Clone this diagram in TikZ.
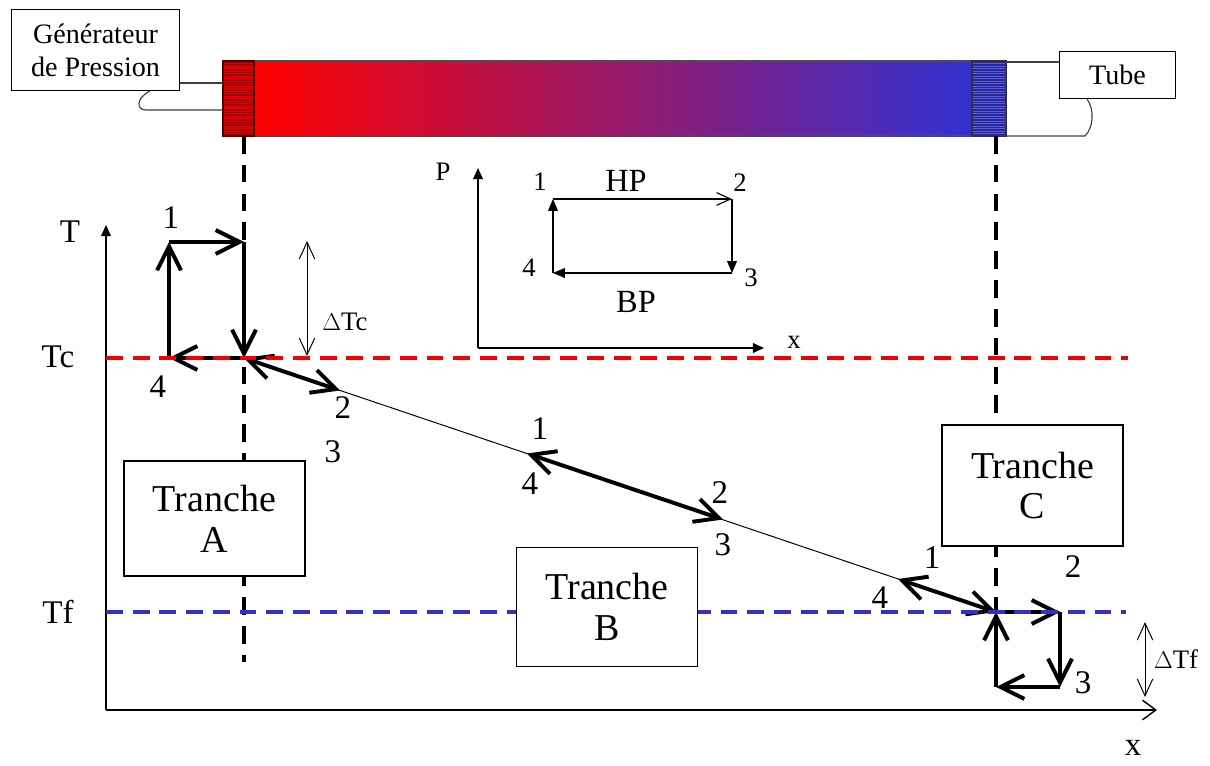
\documentclass[tikz,border=0pt]{standalone}
\usepackage{fontspec}
\setmainfont{Liberation Serif}
\usetikzlibrary{arrows.meta,positioning}
\definecolor{chaud}{RGB}{255,0,0}
\definecolor{milieu}{RGB}{175,35,145}
\definecolor{froid}{RGB}{50,50,210}
\definecolor{capred}{RGB}{165,0,0}
\definecolor{capblue}{RGB}{40,40,150}
\definecolor{tcline}{RGB}{240,0,0}
\definecolor{tfline}{RGB}{50,50,200}

\begin{document}
\begin{tikzpicture}
  [x=0.025cm,y=-0.025cm,
   every node/.style={inner sep=0pt},
   callout/.style={draw,fill=white,line width=0.8pt,align=center,font=\fontsize{20}{23.5}\selectfont},
   tranche/.style={draw,fill=white,line width=1pt,align=center,minimum width=128.5pt,font=\fontsize{27}{29}\selectfont},
   biglbl/.style={font=\fontsize{23.5}{26}\selectfont},
   smalllbl/.style={font=\fontsize{19}{21}\selectfont},
   hplbl/.style={font=\fontsize{23}{25}\selectfont},
   steparr/.style={line width=2.8pt,-{Straight Barb[length=17pt,width=17pt]}},
   pairarr/.style={line width=2.8pt,{Straight Barb[length=17pt,width=17pt]}-{Straight Barb[length=17pt,width=17pt]}},
   deltaarr/.style={line width=0.7pt,{Straight Barb[length=12pt,width=11pt]}-{Straight Barb[length=12pt,width=11pt]}},
   tline/.style={line width=2.6pt,dash pattern=on 12pt off 7pt},
   sliceline/.style={line width=3pt,dash pattern=on 12.5pt off 8pt},
   axisarr/.style={line width=1pt,-{Triangle[length=8pt,width=7pt]}}]
  \useasboundingbox (0,0) rectangle (1210,766);

  % tube
  \shade[left color=chaud,middle color=milieu,right color=froid] (254,61) rectangle (972,136);
  \draw[line width=0.8pt,black!70] (254,61) rectangle (972,136);
  \fill[capred] (223,61) rectangle (254,136);
  \foreach \y in {63.5,66,...,134.5}
    \draw[red!90!black,line width=0.35pt] (223,\y) -- (254,\y);
  \draw[line width=0.8pt,red!30!black] (223,61) rectangle (254,136);
  \fill[capblue] (972,61) rectangle (1006,136);
  \foreach \y in {63.5,66,...,134.5}
    \draw[froid!80!white,line width=0.35pt] (972,\y) -- (1006,\y);
  \draw[line width=0.8pt,black!80] (972,61) rectangle (1006,136);
  \coordinate (tubeL) at (223,83);
  \coordinate (tubeLb) at (223,110);
  \coordinate (tubeR) at (1006,62);
  \coordinate (tubeRb) at (1006,136);

  % callouts
  \node[callout,minimum width=120pt,minimum height=58pt] (gen) at (95.5,50) {Générateur\\de Pression};
  \node[callout,minimum width=83pt,minimum height=34pt] (tube) at (1117.5,75) {Tube};
  \draw[line width=0.8pt,black!75] (gen.east |- tubeL) -- (tubeL);
  \draw[line width=0.8pt,black!75] (150,91) .. controls (136,98) and (136,110) .. (146,110) -- (tubeLb);
  \draw[line width=0.8pt,black!75] (tubeR) -- (tube.west |- tubeR);
  \draw[line width=0.8pt,black!75] (1087,99) .. controls (1095,110) and (1093,128) .. (1085,136) -- (tubeRb);

  % slices
  \coordinate (sA) at (244,136);
  \coordinate (sAend) at (244,662);
  \coordinate (sC) at (996,136);
  \coordinate (sCend) at (996,612);
  \draw[sliceline] (sA) -- (sAend);
  \draw[sliceline] (sC) -- (sCend);

  % main axes
  \coordinate (O) at (106,710);
  \coordinate (Ttop) at (106,225);
  \coordinate (xend) at (1157,710);
  \draw[axisarr] (O) -- (Ttop);
  \draw[line width=1pt,-{Straight Barb[length=9.5pt,width=14pt]}] (O) -- (xend);
  \node[biglbl] (Tlab) at (70,232) {T};
  \node[biglbl] (Tclab) at (58,357) {Tc};
  \node[biglbl] (Tflab) at (58,612) {Tf};
  \node[biglbl] (xlab) at (1133,748) {x};

  % slice A cycle
  \coordinate (a1) at (169,242);
  \coordinate (a2) at (244,242);
  \coordinate (a3) at (244,358);
  \coordinate (a4) at (169,358);
  \foreach \from/\to in {a4/a1, a1/a2, a2/a3, a3/a4}
    \draw[steparr] (\from) -- (\to);
  \node[biglbl] (a1lab) at (171,218) {1};
  \node[biglbl] (a4lab) at (158,387) {4};

  % slope
  \coordinate (b1) at (340,390.5);
  \coordinate (m1) at (527,453.5);
  \coordinate (m2) at (723,519.5);
  \coordinate (c0) at (898,579);
  \coordinate (c1) at (996,612);
  \draw[line width=0.7pt] (a3) -- (c1);
  \draw[pairarr] (a3) -- (b1);
  \draw[pairarr] (m1) -- (m2);
  \draw[pairarr] (c0) -- (c1);
  \node[biglbl] (b2lab) at (343,408) {2};
  \node[biglbl] (b3lab) at (333,452) {3};
  \node[biglbl] (m1lab) at (540,429) {1};
  \node[biglbl] (m4lab) at (530,484) {4};
  \node[biglbl] (m2lab) at (720,493) {2};
  \node[biglbl] (m3lab) at (723,545) {3};
  \node[biglbl] (c1lab) at (932,558) {1};
  \node[biglbl] (c4lab) at (880,598) {4};

  % slice C cycle
  \coordinate (c2) at (1060,612);
  \coordinate (c3) at (1060,687);
  \coordinate (c4) at (996,687);
  \foreach \from/\to in {c1/c2, c2/c3, c3/c4, c4/c1}
    \draw[steparr] (\from) -- (\to);
  \node[biglbl] (c2lab) at (1073,567) {2};
  \node[biglbl] (c3lab) at (1083,683) {3};

  % levels Tc and Tf
  \coordinate (tcL) at (106,358);
  \coordinate (tcR) at (1128,358);
  \coordinate (tfL) at (106,612);
  \coordinate (tfR) at (1126,612);
  \draw[tline,tcline] (tcL) -- (tcR);
  \draw[tline,tfline] (tfL) -- (tfR);

  \node[tranche,minimum height=82pt] (trA) at (214.5,518.5) {Tranche\\A};
  \node[tranche,minimum height=85pt] (trB) at (607,607) {Tranche\\B};
  \node[tranche,minimum height=86pt] (trC) at (1032.5,485.5) {Tranche\\C};

  % temperature gaps
  \coordinate (dcTop) at (307,241);
  \coordinate (dcBot) at (307,356);
  \draw[deltaarr] (dcTop) -- (dcBot);
  \node[smalllbl] (dTc) at (345,322) {$\Delta$Tc};
  \coordinate (dfTop) at (1145,622);
  \coordinate (dfBot) at (1145,697);
  \draw[deltaarr] (dfTop) -- (dfBot);
  \node[smalllbl] (dTf) at (1176,659) {$\Delta$Tf};

  % P-x diagram
  \coordinate (po) at (478,348);
  \coordinate (ptop) at (478,168);
  \coordinate (pend) at (764,348);
  \draw[axisarr] (po) -- (ptop);
  \draw[axisarr] (po) -- (pend);
  \node[smalllbl] (Plab) at (443,172) {P};
  \node[smalllbl] (pxlab) at (794,342) {x};
  \coordinate (p1) at (553,199);
  \coordinate (p2) at (732,199);
  \coordinate (p3) at (732,273);
  \coordinate (p4) at (553,273);
  \draw[line width=0.8pt,-{Straight Barb[length=10pt,width=9pt]}] (p1) -- (p2);
  \foreach \from/\to in {p2/p3, p3/p4, p4/p1}
    \draw[line width=0.8pt,-{Triangle[length=8.5pt,width=7pt]}] (\from) -- (\to);
  \node[smalllbl] (p1lab) at (540,182) {1};
  \node[smalllbl] (p2lab) at (740,183) {2};
  \node[smalllbl] (p3lab) at (751,278) {3};
  \node[smalllbl] (p4lab) at (529,268) {4};
  \node[hplbl] (HP) at (626,181) {HP};
  \node[hplbl] (BP) at (636,302) {BP};
\end{tikzpicture}
\end{document}
